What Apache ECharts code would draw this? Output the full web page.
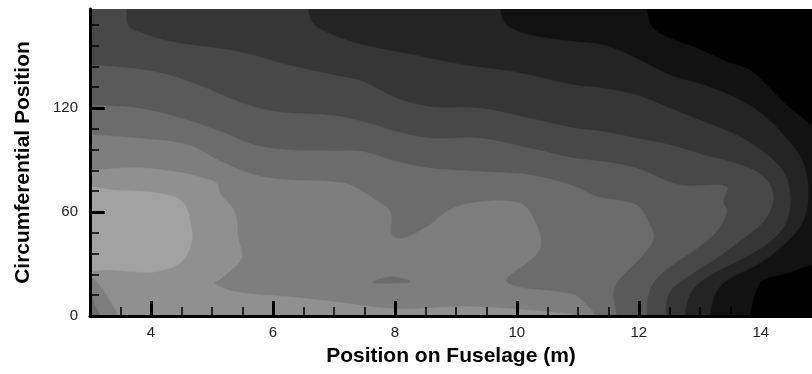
<!DOCTYPE html>
<html>
<head>
<meta charset="utf-8">
<script src="https://cdn.jsdelivr.net/npm/echarts@6/dist/echarts.min.js"></script>
<style>
 html, body { margin: 0; padding: 0; background: #fff; }
 #chart { width: 812px; height: 374px; }
</style>
</head>
<body>
<div id="chart"></div>
<script>
// axis extents and ticks
const xRange = [3, 14.84]
const yRange = [0, 177.1]
const xMajorTicks = [4, 6, 8, 10, 12, 14]
const xMinorTicks = [3.5, 4.5, 5, 5.5, 6.5, 7, 7.5, 8.5, 9, 9.5, 10.5, 11, 11.5, 12.5, 13, 13.5, 14.5]
const yMajorTicks = [0, 60, 120]
const yMinorTicks = [12, 24, 36, 48, 72, 84, 96, 108, 132, 144, 156, 168]

// grey of each contour level, darkest first
const levelColors = ['#000000', '#121212', '#242424', '#363636', '#484848', '#5a5a5a', '#6c6c6c', '#7e7e7e', '#909090', '#a2a2a2']

// contour lines, [position m, circumferential position]
const edge1Top = [[12.13, 177.1], [12.21, 166.9], [12.45, 161.1], [12.95, 154.4], [13.44, 146.7], [13.82, 141.9], [14.15, 131.3], [14.42, 121.7], [14.69, 114.0], [14.84, 110.0]]
const edge1Bottom = [[14.84, 29.4], [14.42, 24.6], [14.09, 21.7], [13.96, 17.9], [13.82, 0]]
const edge2 = [[9.72, 177.1], [9.83, 167.9], [10.21, 162.1], [10.95, 158.2], [11.42, 156.3], [11.96, 148.6], [12.51, 139.0], [13.06, 133.2], [13.60, 125.6], [14.04, 116.0], [14.42, 102.5], [14.69, 89.0], [14.78, 71.7], [14.69, 54.4], [14.37, 40.9], [13.93, 29.4], [13.49, 21.7], [13.27, 14.0], [13.16, 0]]
const edge3 = [[6.57, 177.1], [6.68, 167.9], [6.98, 162.1], [7.48, 156.3], [8.30, 150.6], [9.12, 144.8], [9.94, 140.9], [10.95, 133.2], [11.42, 131.3], [11.96, 127.5], [12.51, 119.8], [13.06, 112.1], [13.60, 104.4], [14.04, 94.8], [14.37, 83.3], [14.48, 69.8], [14.42, 54.4], [14.15, 42.9], [13.71, 33.3], [13.27, 25.6], [12.95, 17.9], [12.81, 10.2], [12.75, 0]]
const edge4 = [[3.60, 177.1], [3.62, 167.9], [3.79, 164.0], [4.33, 158.2], [5.43, 152.5], [6.25, 144.8], [6.98, 139.0], [7.48, 135.2], [8.03, 125.6], [8.57, 120.7], [9.39, 119.8], [10.21, 114.0], [10.95, 108.3], [11.42, 106.3], [11.96, 102.5], [12.51, 98.6], [13.06, 92.9], [13.49, 89.0], [13.93, 83.3], [14.15, 75.5], [14.20, 66.0], [14.04, 54.4], [13.71, 44.8], [13.27, 33.3], [12.84, 23.6], [12.51, 14.0], [12.43, 0]]
const edge5 = [[3, 144.8], [4.06, 140.9], [4.77, 133.2], [5.43, 123.6], [6.03, 117.9], [6.96, 115.6], [7.48, 112.1], [8.03, 106.3], [8.57, 102.5], [9.39, 102.5], [10.21, 96.7], [10.95, 90.9], [11.42, 89.0], [11.96, 85.2], [12.67, 75.6], [13.44, 74.6], [13.38, 66.0], [13.44, 60.2], [13.27, 48.6], [12.95, 39.0], [12.62, 31.3], [12.29, 21.7], [12.15, 12.1], [12.13, 0]]
const edge6 = [[3, 121.7], [3.79, 119.8], [4.50, 114.0], [5.15, 106.3], [5.70, 98.6], [6.25, 95.7], [6.96, 95.2], [7.48, 94.8], [8.03, 89.0], [8.57, 85.2], [9.39, 83.3], [10.21, 81.3], [10.93, 75.0], [11.31, 68.8], [11.96, 64.0], [12.18, 52.5], [12.24, 44.8], [12.07, 35.2], [11.69, 21.7], [11.58, 14.0], [11.63, 0]]
const edge7 = [[3, 104.4], [3.79, 102.5], [4.61, 98.6], [5.15, 89.0], [5.70, 81.3], [6.25, 78.4], [6.96, 77.5], [7.26, 75.6], [7.64, 67.9], [7.92, 60.2], [7.95, 46.7], [8.14, 44.8], [8.57, 52.5], [8.85, 60.2], [9.23, 65.0], [9.94, 66.0], [10.21, 60.2], [10.38, 39.0], [9.83, 19.8], [10.95, 12.1], [11.14, 6.3], [11.28, 0]]
const edge8 = [[3, 84.2], [3.95, 85.2], [5.04, 77.5], [5.15, 69.8], [5.37, 60.2], [5.43, 44.8], [5.48, 33.3], [5.15, 21.7], [5.04, 18.8], [5.43, 13.6], [6.25, 11.1], [6.96, 8.3], [8.03, 4.0], [9.12, 5.4], [9.94, 4.0], [10.76, 1.5], [10.95, 0]]
const blob9 = [[3, 72.0], [3.5, 72.3], [3.93, 71.6], [4.25, 70.0], [4.48, 66.9], [4.6, 61.0], [4.64, 55.4], [4.67, 49.0], [4.67, 43.8], [4.6, 36.0], [4.48, 30.6], [4.25, 27.0], [4.03, 25.4], [3.7, 25.6], [3.38, 26.5], [3, 29.6]]
const island6 = [[7.64, 19.4], [7.75, 21.2], [7.92, 22.4], [8.05, 22.2], [8.25, 19.8], [8.0, 19.1], [7.75, 19.0]]
const corner7 = [[3, 22.5], [3.21, 15.0], [3.44, 1.7], [3.46, 0]]
const corner6 = [[3, 13.3], [3.08, 6.0], [3.16, 0]]

const x0 = xRange[0], x1 = xRange[1], y0 = yRange[0], y1 = yRange[1]
const dx = 0.4, dy = 12

// push a point that sits on the frame a little outside, so smoothing ends off the plot
const outward = p => {
 if (p[1] >= y1) return [p[0], y1 + dy]
 if (p[1] <= y0) return [p[0], y0 - dy]
 if (p[0] <= x0) return [x0 - dx, p[1]]
 if (p[0] >= x1) return [x1 + dx, p[1]]
 return null
}
const open = edge => {
 const a = outward(edge[0]), b = outward(edge[edge.length - 1])
 return (a ? [a] : []).concat(edge, b ? [b] : [])
}
const cornerLow = [x0 - dx * 2, y0 - dy * 2]
const cornerHigh = [x0 - dx * 2, y1 + dy * 2]
const closed = shape => shape.map(p => (p[0] <= x0 ? [x0 - dx, p[1]] : p))

// painted in order, each one over the last
const bands = [
 [levelColors[0], [cornerLow, cornerHigh, [x1 + dx * 2, y1 + dy * 2], [x1 + dx * 2, y0 - dy * 2]], 0],
 [levelColors[1], [cornerLow, cornerHigh].concat(open(edge1Top), open(edge1Bottom)), 0.35],
 [levelColors[2], [cornerLow, cornerHigh].concat(open(edge2)), 0.35],
 [levelColors[3], [cornerLow, cornerHigh].concat(open(edge3)), 0.35],
 [levelColors[4], [cornerLow, cornerHigh].concat(open(edge4)), 0.35],
 [levelColors[5], [cornerLow].concat(open(edge5)), 0.35],
 [levelColors[6], [cornerLow].concat(open(edge6)), 0.35],
 [levelColors[7], [cornerLow].concat(open(edge7)), 0.35],
 [levelColors[6], island6, 0.4],
 [levelColors[8], [cornerLow].concat(open(edge8)), 0.35],
 [levelColors[7], [cornerLow].concat(open(corner7)), 0.3],
 [levelColors[6], [cornerLow].concat(open(corner6)), 0.3],
 [levelColors[9], closed(blob9), 0.4]
]

const numberFont = "'Liberation Sans', Arial, sans-serif"
const titleFont = "'Liberation Sans', Arial, sans-serif"

const bandSeries = (color, points, smooth) => ({
 type: 'custom',
 coordinateSystem: 'cartesian2d',
 silent: true,
 clip: true,
 data: [[x0, y0]],
 renderItem: function (params, api) {
  return {
   type: 'polygon',
   shape: { points: points.map(p => api.coord(p)), smooth: smooth },
   style: { fill: color, stroke: color, lineWidth: 0.6 }
  }
 }
})

const tickAxis = (values, len, width) => ({
 type: 'value',
 z: 10,
 axisLine: { show: false },
 axisTick: { show: true, inside: true, length: len, customValues: values, lineStyle: { color: '#000', width: width } },
 axisLabel: { show: false },
 splitLine: { show: false }
})

const option = {
 animation: false,
 grid: { left: 90, right: 0, top: 9, bottom: 58 },
 xAxis: [
  {
   type: 'value',
   min: x0,
   max: x1,
   position: 'bottom',
   z: 10,
   axisLine: { show: true, onZero: false, lineStyle: { color: '#000', width: 3 } },
   axisTick: { show: true, inside: true, length: 15, customValues: xMajorTicks, lineStyle: { color: '#000', width: 3 } },
   axisLabel: { customValues: xMajorTicks, margin: 9, color: '#222', fontFamily: numberFont, fontSize: 15 },
   splitLine: { show: false },
   name: 'Position on Fuselage (m)',
   nameLocation: 'middle',
   nameGap: 30,
   nameTextStyle: { color: '#000', fontFamily: titleFont, fontWeight: 'bold', fontSize: 21 }
  },
  Object.assign(tickAxis(xMinorTicks, 9, 1.5), { min: x0, max: x1, position: 'bottom' })
 ],
 yAxis: [
  {
   type: 'value',
   min: y0,
   max: y1,
   position: 'left',
   z: 10,
   axisLine: { show: true, onZero: false, lineStyle: { color: '#000', width: 3 } },
   axisTick: { show: true, inside: true, length: 15, customValues: yMajorTicks, lineStyle: { color: '#000', width: 3 } },
   axisLabel: { customValues: yMajorTicks, margin: 12, color: '#222', fontFamily: numberFont, fontSize: 15 },
   splitLine: { show: false },
   name: 'Circumferential Position',
   nameLocation: 'middle',
   nameGap: 56,
   nameTextStyle: { color: '#000', fontFamily: titleFont, fontWeight: 'bold', fontSize: 21 }
  },
  Object.assign(tickAxis(yMinorTicks, 9, 1.5), { min: y0, max: y1, position: 'left' })
 ],
 series: bands.map(b => bandSeries(b[0], b[1], b[2]))
}

const chart = echarts.init(document.getElementById('chart'))
chart.setOption(option)
</script>
</body>
</html>
